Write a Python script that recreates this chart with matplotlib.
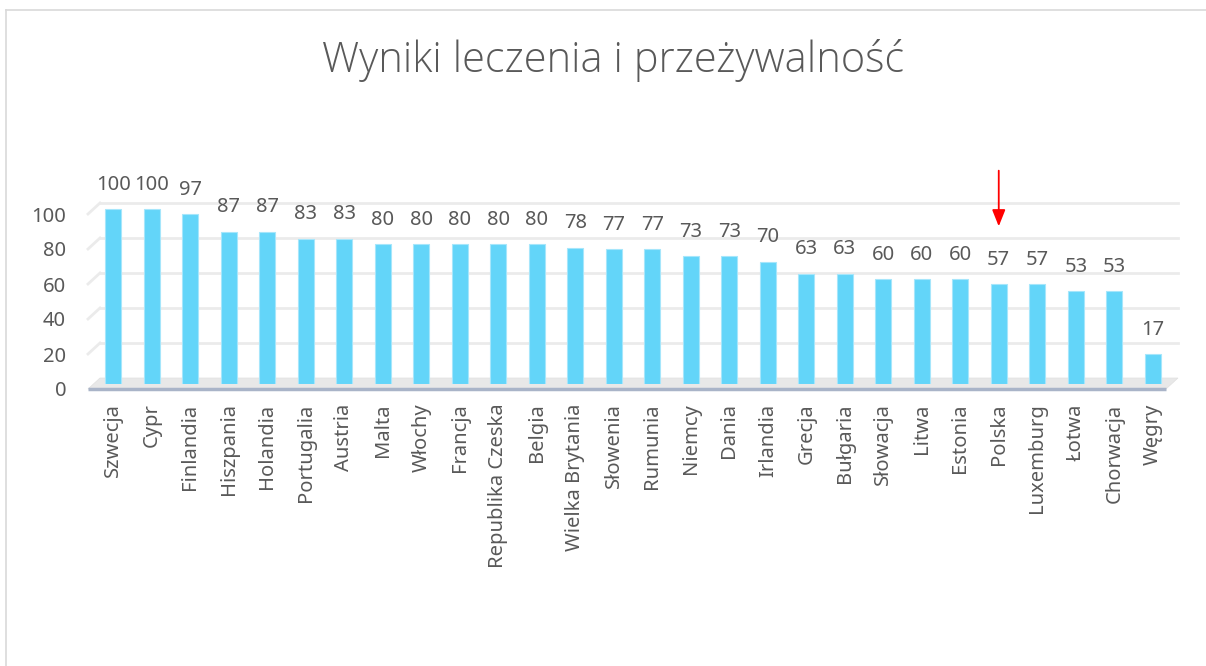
import numpy as np
import matplotlib
matplotlib.use("Agg")
import matplotlib.pyplot as plt
import matplotlib.transforms as mtransforms
from matplotlib.patches import Polygon

kraje = ["Szwecja", "Cypr", "Finlandia", "Hiszpania", "Holandia", "Portugalia",
         "Austria", "Malta", "Włochy", "Francja", "Republika Czeska", "Belgia",
         "Wielka Brytania", "Słowenia", "Rumunia", "Niemcy", "Dania", "Irlandia",
         "Grecja", "Bułgaria", "Słowacja", "Litwa", "Estonia", "Polska",
         "Luxemburg", "Łotwa", "Chorwacja", "Węgry"]
wyniki = [100, 100, 97, 87, 87, 83, 83, 80, 80, 80, 80, 80, 78, 77, 77, 73, 73, 70,
          63, 63, 60, 60, 60, 57, 57, 53, 53, 17]
y_ticks = [0, 20, 40, 60, 80, 100]
tytul = "Wyniki leczenia i przeżywalność"
wskazany = "Polska"

szary = "#595959"
plt.rcParams["font.family"] = ["Noto Sans", "DejaVu Sans"]

W, H = 1206, 666
fig = plt.figure(figsize=(W / 100, H / 100), dpi=100)

# axes in pixel terms: bar plane, y=0 at 384 px, 1.75 px per unit
left, right = 94, 1172
y0, ytop = 384, 384 - 1.75 * 120
ax = fig.add_axes([left / W, 1 - y0 / H, (right - left) / W, (y0 - ytop) / H])
ax.set_xlim(-0.5, len(kraje) - 0.5)
ax.set_ylim(0, 120)
for s in ax.spines.values():
    s.set_visible(False)

def shift(dx, dy):
    # pixel offset (dx right, dy up)
    return ax.transData + mtransforms.ScaledTranslation(dx / 100, dy / 100, fig.dpi_scale_trans)

back = shift(6, 6)
front = shift(-6, -5)
x0, x1 = -0.5, len(kraje) - 0.5

# back wall gridlines with left side-wall segment
for v in y_ticks[1:]:
    ax.plot([x0, x1], [v, v], color="#ebebeb", lw=2, transform=back, zorder=0, clip_on=False)
    p_front = front.transform((x0, v))
    p_back = back.transform((x0, v))
    ax.add_line(plt.Line2D([p_front[0], p_back[0]], [p_front[1], p_back[1]],
                           color="#ebebeb", lw=2, transform=None, zorder=0, clip_on=False))

# floor
pts = [front.transform((x0, 0)), front.transform((x1, 0)),
       back.transform((x1, 0)), back.transform((x0, 0))]
ax.add_patch(Polygon(pts, closed=True, facecolor="#e8e8e8", edgecolor="#e0e0e0",
                     lw=0.5, transform=None, zorder=0.5, clip_on=False))
ax.plot([x0, x1], [0, 0], color="#a9b4c8", lw=2.5, transform=front, zorder=3,
        solid_capstyle="butt", clip_on=False)

x = np.arange(len(kraje))
ax.bar(x, wyniki, width=0.42, color="#63d5f9", edgecolor="#a6e6fb", lw=0.8, zorder=2)

for xi, v in zip(x, wyniki):
    ax.annotate(str(v), (xi, v), xytext=(0, 17.5), textcoords="offset points",
                ha="center", va="center", fontsize=14.5, color=szary)

ax.set_xticks(x)
ax.set_xticklabels(kraje, rotation=90, fontsize=14.5, color=szary)
ax.set_yticks(y_ticks)
ax.set_yticklabels([str(t) for t in y_ticks], fontsize=14.5, color=szary)
ax.tick_params(axis="both", length=0)
ax.tick_params(axis="x", pad=14)
ax.tick_params(axis="y", pad=20)
for lab in ax.get_yticklabels():
    lab.set_transform(lab.get_transform() + mtransforms.ScaledTranslation(0, -0.05, fig.dpi_scale_trans))

# red arrow over Polska
ip = kraje.index(wskazany)
ax.annotate("", xy=(ip, 88.5), xytext=(ip, 123.5),
            arrowprops=dict(arrowstyle="-|>,head_length=1.0,head_width=0.4",
                            color="red", lw=1.3), annotation_clip=False)

fig.text(0.508, 1 - 61 / H, tytul, ha="center", va="center", fontsize=30,
         color=szary, fontweight="light", family=["Open Sans", "DejaVu Sans"])

# chart frame
fig.add_artist(plt.Line2D([6 / W, 6 / W], [0, 1 - 10 / H], color="#d9d9d9", lw=1.2,
                          transform=fig.transFigure))
fig.add_artist(plt.Line2D([6 / W, 1], [1 - 10 / H, 1 - 10 / H], color="#d9d9d9", lw=1.2,
                          transform=fig.transFigure))

fig.savefig("out.png", dpi=100)
